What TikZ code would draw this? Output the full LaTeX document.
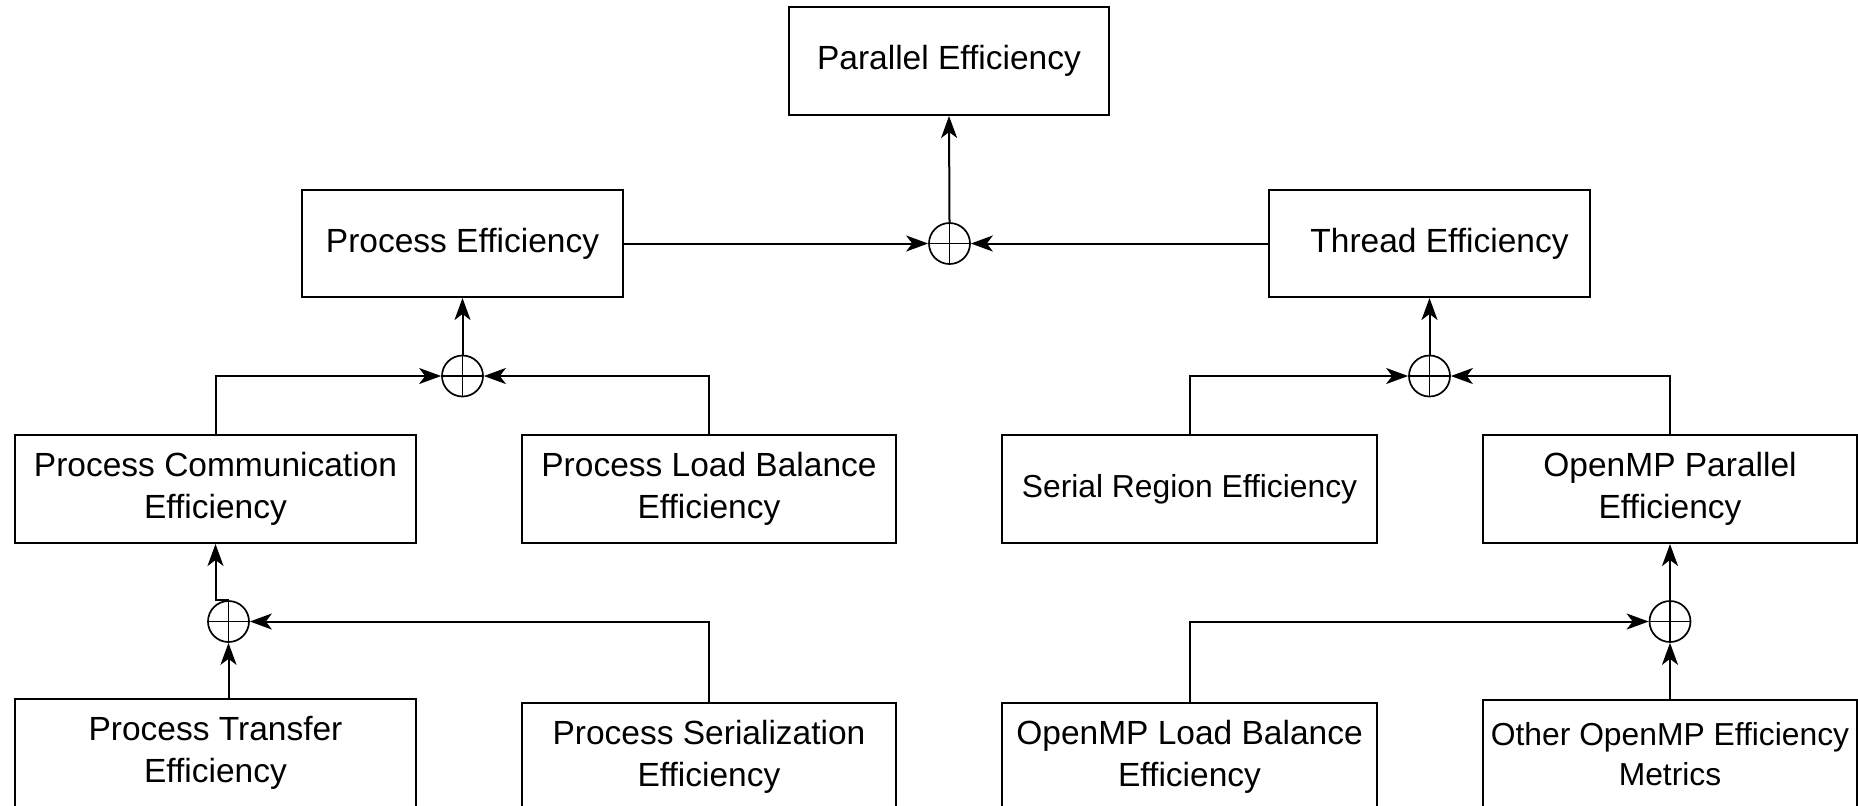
\documentclass[tikz,border=0pt]{standalone}
\usepackage{fontspec}
\setmainfont{Liberation Sans}
\usetikzlibrary{arrows.meta}
\begin{document}
\begin{tikzpicture}[x=0.5pt,y=-0.5pt,
  box/.style={draw, line width=1pt, rectangle, inner sep=0pt, align=center,
    font=\fontsize{16.75}{21}\selectfont},
  smallbox/.style={box, font=\fontsize{15.9}{20}\selectfont},
  sumnode/.style={draw, circle, line width=0.85pt, minimum size=20.5pt, inner sep=0pt,
    path picture={\draw[line width=0.8pt]
      (path picture bounding box.north) -- (path picture bounding box.south)
      (path picture bounding box.west) -- (path picture bounding box.east);}},
  conn/.style={line width=1pt, -{Stealth[length=11pt,width=8pt,inset=3pt]}},
  plain/.style={line width=1pt}
]
\useasboundingbox (0,0) rectangle (1858,805);
\clip (0,0) rectangle (1858,805);
\fill[white] (0,0) rectangle (1858,805);

% top row
\node[box, minimum width=160pt, minimum height=54pt] (par) at (949,61) {Parallel Efficiency};
\node[box, minimum width=160.5pt, minimum height=53.5pt] (proc) at (462.5,243.5) {Process Efficiency};
\node[box, minimum width=160.5pt, minimum height=53.5pt] (thr) at (1429.5,243.5) {\hspace*{10pt}Thread Efficiency};

% middle row
\node[box, minimum width=200.5pt, minimum height=54pt] (pcomm) at (215.5,489) {Process Communication\\Efficiency};
\node[box, minimum width=187pt, minimum height=54pt] (plb) at (709,489) {Process Load Balance\\Efficiency};
\node[smallbox, minimum width=187.5pt, minimum height=54pt] (ser) at (1189.5,489) {Serial Region Efficiency};
\node[box, minimum width=187pt, minimum height=54pt] (ompp) at (1670,489) {OpenMP Parallel\\Efficiency};

% bottom row (cut off by the page)
\node[box, minimum width=200.5pt, minimum height=54pt] (pt) at (215.5,753) {Process Transfer\\Efficiency};
\node[box, minimum width=187pt, minimum height=54pt] (ps) at (709,757) {Process Serialization\\Efficiency};
\node[box, minimum width=187.5pt, minimum height=54pt] (omplb) at (1189.5,757) {OpenMP Load Balance\\Efficiency};
\node[smallbox, minimum width=187pt, minimum height=54pt] (other) at (1670,754) {Other OpenMP Efficiency\\Metrics};

% summation nodes
\node[sumnode] (sT) at (949.5,243.5) {};
\node[sumnode] (sP) at (462.5,376) {};
\node[sumnode] (sTh) at (1429.5,376) {};
\node[sumnode] (sL) at (228.5,621.5) {};
\node[sumnode] (sR) at (1670,621.5) {};

% connectors
\draw[conn] (proc.east) -- (sT.west);
\draw[conn] (thr.west) -- (sT.east);
\draw[conn] (sT.north) -- (par.south);

\draw[conn] (sP.north) -- (proc.south);
\draw[conn] (pcomm.north) |- (sP.west);
\draw[conn] (plb.north) |- (sP.east);

\draw[conn] (sTh.north) -- (thr.south);
\draw[conn] (ser.north) |- (sTh.west);
\draw[conn] (ompp.north) |- (sTh.east);

\draw[conn] (sL.north) -| (pcomm.south);
\draw[conn] (sL.south |- pt.north) -- (sL.south);
\draw[conn] (ps.north) |- (sL.east);

\draw[conn] (sR.north) -- (ompp.south);
\draw[conn] (omplb.north) |- (sR.west);
\draw[conn] (other.north) -- (sR.south);
\end{tikzpicture}
\end{document}
